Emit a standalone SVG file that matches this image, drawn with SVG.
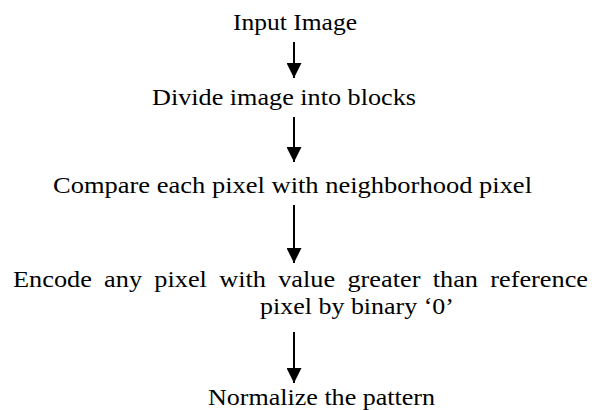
<svg xmlns="http://www.w3.org/2000/svg" width="597" height="410" viewBox="0 0 597 410">
<defs>
<style>
.t{font-family:"Liberation Serif","Times New Roman",serif;font-size:24px;fill:#000}
.ln{stroke:#000;stroke-width:2;fill:none}
</style>
<marker id="ah" viewBox="0 0 15 15" refX="15" refY="7.5" markerWidth="15" markerHeight="15" markerUnits="userSpaceOnUse" orient="auto">
<path d="M0,0 L15,7.5 L0,15 Z" fill="#000"/>
</marker>
</defs>
<rect width="597" height="410" fill="#fff"/>
<g id="connectors">
<line class="ln" x1="294" y1="42" x2="294" y2="78" marker-end="url(#ah)"/>
<line class="ln" x1="294" y1="117" x2="294" y2="162" marker-end="url(#ah)"/>
<line class="ln" x1="294" y1="205" x2="294" y2="263" marker-end="url(#ah)"/>
<line class="ln" x1="294" y1="332" x2="294" y2="383" marker-end="url(#ah)"/>
</g>
<g id="n1"><text class="t" x="233" y="30" textLength="124" lengthAdjust="spacingAndGlyphs">Input Image</text></g>
<g id="n2"><text class="t" x="152" y="105" textLength="264" lengthAdjust="spacingAndGlyphs">Divide image into blocks</text></g>
<g id="n3"><text class="t" x="53" y="193" textLength="479" lengthAdjust="spacingAndGlyphs">Compare each pixel with neighborhood pixel</text></g>
<g id="n4">
<text class="t" x="13" y="287" textLength="575" lengthAdjust="spacingAndGlyphs" style="word-spacing:5.2px">Encode any pixel with value greater than reference</text>
<text class="t" x="260" y="314" textLength="194" lengthAdjust="spacingAndGlyphs">pixel by binary ‘0’</text>
</g>
<g id="n5"><text class="t" x="208" y="405" textLength="227" lengthAdjust="spacingAndGlyphs">Normalize the pattern</text></g>
</svg>
